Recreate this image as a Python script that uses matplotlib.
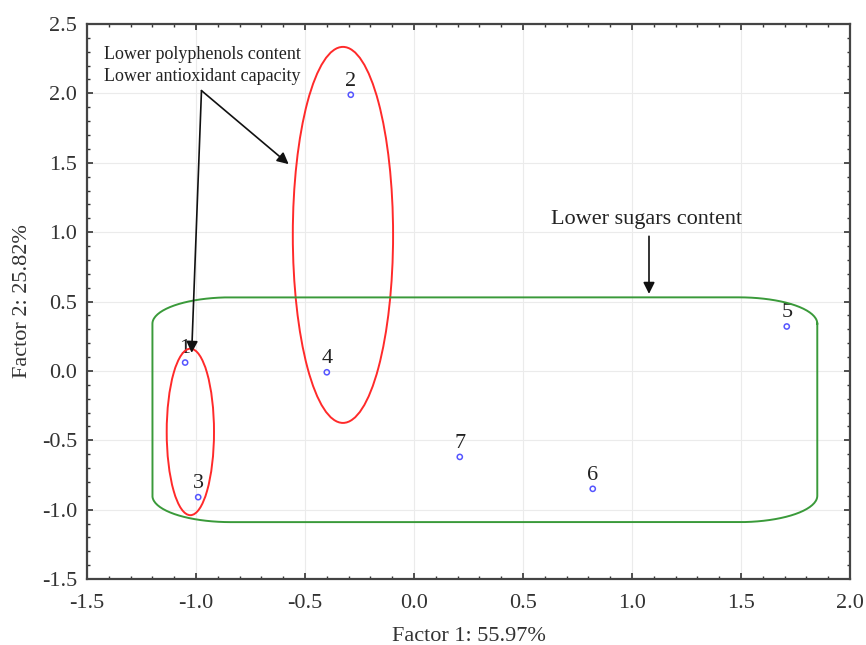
import matplotlib
matplotlib.use("Agg")
import matplotlib.pyplot as plt
import numpy as np
from matplotlib.patches import Ellipse
from matplotlib.ticker import MultipleLocator

# sample scores on the two factors
labels = ["1", "2", "3", "4", "5", "6", "7"]
factor1 = [-1.05, -0.29, -0.99, -0.40, 1.71, 0.82, 0.21]
factor2 = [0.06, 1.99, -0.91, -0.01, 0.32, -0.85, -0.62]

plt.rcParams["font.family"] = ["Liberation Serif", "DejaVu Serif"]

fig = plt.figure(figsize=(8.66, 6.45), dpi=100)
ax = fig.add_axes([0.1005, 0.1023, 0.881, 0.8605])

ax.set_xlim(-1.5, 2.0)
ax.set_ylim(-1.5, 2.5)
ax.xaxis.set_major_locator(MultipleLocator(0.5))
ax.yaxis.set_major_locator(MultipleLocator(0.5))
ax.xaxis.set_minor_locator(MultipleLocator(0.1))
ax.yaxis.set_minor_locator(MultipleLocator(0.1))
ax.xaxis.set_major_formatter(lambda v, p: "%.1f" % v)
ax.yaxis.set_major_formatter(lambda v, p: "%.1f" % v)
ax.tick_params(which="both", direction="in", top=True, right=True,
               labelsize=16, colors="#333333")
ax.tick_params(axis="y", pad=7)
ax.tick_params(axis="x", pad=11)
ax.tick_params(which="major", length=4, width=1.2)
ax.tick_params(which="minor", length=2, width=1)
ax.grid(True, which="major", color="#ebebeb", linewidth=0.8)
ax.set_axisbelow(True)
for s in ax.spines.values():
    s.set_linewidth(1.6)
    s.set_color("#444444")

ax.set_xlabel("Factor 1: 55.97%", fontsize=16, color="#333333", labelpad=10)
ax.set_ylabel("Factor 2: 25.82%", fontsize=16, color="#333333", labelpad=7)

# points and labels
ax.scatter(factor1, factor2, s=14, facecolors="none", edgecolors="#5555ff",
           linewidths=1.1, zorder=4)
for lab, x, y in zip(labels, factor1, factor2):
    ax.annotate(lab, (x, y), xytext=(0, 3), textcoords="offset points",
                ha="center", va="bottom", fontsize=16, color="#222222")

# red ellipses
ax.add_patch(Ellipse((-0.326, 0.98), 0.46, 2.71, fill=False,
                     edgecolor="#ff2a2a", linewidth=1.4, zorder=3))
ax.add_patch(Ellipse((-1.026, -0.44), 0.217, 1.20, fill=False,
                     edgecolor="#ff2a2a", linewidth=1.4, zorder=3))

# green rounded rectangle
x0, x1, y0, y1 = -1.20, 1.85, -1.09, 0.53
rx, ry = 0.36, 0.19
t = np.linspace(0, np.pi / 2, 40)
path_x, path_y = [], []
for cx, cy, start in [(x1 - rx, y1 - ry, 0.0), (x0 + rx, y1 - ry, np.pi / 2),
                      (x0 + rx, y0 + ry, np.pi), (x1 - rx, y0 + ry, 1.5 * np.pi)]:
    ang = start + t
    path_x.extend(cx + rx * np.cos(ang))
    path_y.extend(cy + ry * np.sin(ang))
path_x.append(path_x[0])
path_y.append(path_y[0])
ax.plot(path_x, path_y, color="#3a9a3a", linewidth=1.4, zorder=3)

# annotations
ax.text(-1.42, 2.20, "Lower polyphenols content\nLower antioxidant capacity",
        fontsize=13, color="#222222", va="center", ha="left", linespacing=1.4)
vx, vy = -0.975, 2.02
for tx, ty in [(-0.575, 1.49), (-1.02, 0.13)]:
    ax.annotate("", xy=(tx, ty), xytext=(vx, vy),
                arrowprops=dict(arrowstyle="-|>", color="#111111", lw=1.2,
                                mutation_scale=17, shrinkA=0, shrinkB=0))

ax.text(1.067, 1.09, "Lower sugars content", fontsize=16, color="#222222",
        ha="center", va="center")
ax.annotate("", xy=(1.078, 0.555), xytext=(1.078, 0.97),
            arrowprops=dict(arrowstyle="-|>", color="#111111", lw=1.2,
                            mutation_scale=17, shrinkA=0, shrinkB=0))

fig.savefig("out.png", dpi=100)
